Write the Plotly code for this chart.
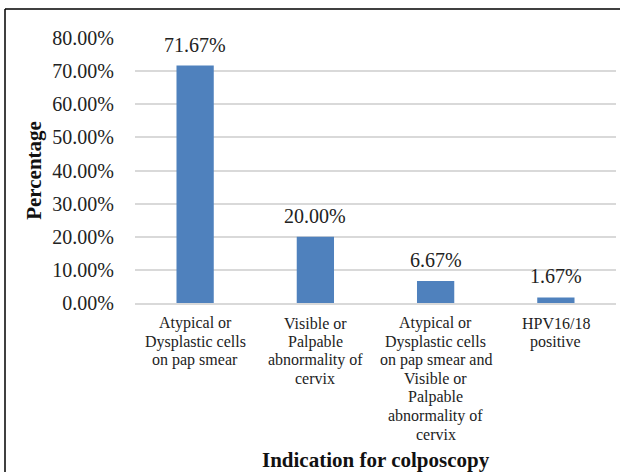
import plotly.graph_objects as go

categories = [
    "Atypical or<br>Dysplastic cells<br>on pap smear",
    "Visible or<br>Palpable<br>abnormality of<br>cervix",
    "Atypical or<br>Dysplastic cells<br>on pap smear and<br>Visible or<br>Palpable<br>abnormality of<br>cervix",
    "HPV16/18<br>positive",
]
values = [0.7167, 0.20, 0.0667, 0.0167]
value_labels = ["71.67%", "20.00%", "6.67%", "1.67%"]
y_ticks = [0, 0.1, 0.2, 0.3, 0.4, 0.5, 0.6, 0.7, 0.8]

FONT = "Liberation Serif"
PLOT_H = 265

fig = go.Figure()
fig.add_trace(go.Bar(
    x=list(range(len(categories))),
    y=values,
    marker=dict(color="#4f81bd", line=dict(width=0)),
    width=0.31,
))

for i, (v, lab) in enumerate(zip(values, value_labels)):
    fig.add_annotation(x=i, y=v, text=lab, showarrow=False, yanchor="bottom",
                       yshift=8, font=dict(family=FONT, size=20, color="#222"))

# category labels, one line per annotation for tight line spacing
for i, cat in enumerate(categories):
    for j, line in enumerate(cat.split("<br>")):
        fig.add_annotation(x=i, y=0, xref="x", yref="y", text=line, showarrow=False,
                           yanchor="middle", yshift=-(20 + j * 18.5),
                           font=dict(family=FONT, size=16, color="#222"))

fig.add_annotation(x=0.5, xref="paper", y=-(460 - 303) / PLOT_H, yref="paper",
                   text="<b>Indication for colposcopy</b>", showarrow=False,
                   yanchor="middle", font=dict(family=FONT, size=21, color="#111"))

fig.update_layout(
    width=620, height=472,
    margin=dict(l=135, r=4, t=38, b=169),
    paper_bgcolor="white", plot_bgcolor="white",
    font=dict(family=FONT, color="#222"),
    showlegend=False,
    xaxis=dict(
        tickvals=list(range(len(categories))), showticklabels=False,
        range=[-0.5, 3.5], showgrid=False, zeroline=False,
        showline=True, linecolor="#d9d9d9", linewidth=2, ticks="",
    ),
    yaxis=dict(
        range=[0, 0.8], tickvals=y_ticks, tickformat=".2%",
        showgrid=True, gridcolor="#d9d9d9", gridwidth=2,
        zeroline=False, showline=False,
        tickfont=dict(family=FONT, size=20, color="#222"),
        ticklabelstandoff=20,
        title=dict(text="<b>Percentage</b>", font=dict(family=FONT, size=21, color="#111"), standoff=4),
    ),
)

# chart border (top and left edges visible)
fig.add_shape(type="line", xref="paper", yref="paper",
              x0=(5 - 135) / 481, x1=(625 - 135) / 481, y0=1 + (38 - 9) / PLOT_H, y1=1 + (38 - 9) / PLOT_H,
              line=dict(color="black", width=1.5))
fig.add_shape(type="line", xref="paper", yref="paper",
              x0=(5 - 135) / 481, x1=(5 - 135) / 481, y0=1 + (38 - 9) / PLOT_H, y1=-(180 / PLOT_H),
              line=dict(color="black", width=1.5))

fig.write_html("out.html")
